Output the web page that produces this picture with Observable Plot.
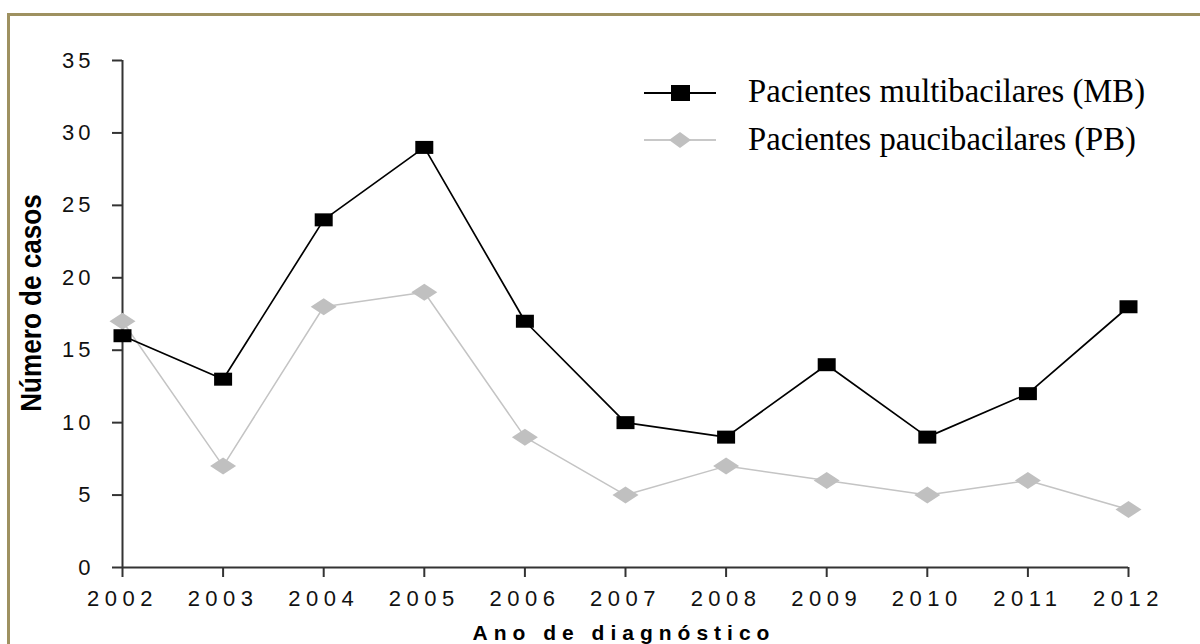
<!DOCTYPE html>
<html>
<head>
<meta charset="utf-8">
<script src="https://cdn.jsdelivr.net/npm/d3@7"></script>
<script src="https://cdn.jsdelivr.net/npm/@observablehq/plot@0.6"></script>
<style>
  html, body { margin: 0; padding: 0; background: #fff; }
  #wrap { position: relative; width: 1200px; height: 644px; overflow: hidden; background: #fff; }
  #frame { position: absolute; left: 7px; top: 13px; width: 1300px; height: 800px;
           border-top: 3px solid #9e9160; border-left: 3px solid #9e9160; box-sizing: border-box; }
  #chart { position: absolute; left: 0; top: 0; }
  #chart g[aria-label="x-axis tick label"], #chart g[aria-label="x-axis tick label"] text { font-size: 22px !important; letter-spacing: 5.5px; }
  #chart g[aria-label="y-axis tick label"], #chart g[aria-label="y-axis tick label"] text { font-size: 22px !important; letter-spacing: 4px; }
  .ytitle { position: absolute; left: 31px; top: 303px; transform: translate(-50%, -50%) rotate(-90deg) scaleX(0.9);
            font: bold 29px "Liberation Sans", Arial, sans-serif; white-space: nowrap; color: #000; line-height: 29px; }
  .xtitle { position: absolute; left: 624px; top: 622px; transform: translateX(-50%);
            font: bold 21px "Liberation Sans", Arial, sans-serif; letter-spacing: 6px; white-space: nowrap; color: #000; line-height: 21px; }
  .leg { position: absolute; left: 640px; font: 34px "Liberation Serif", "Times New Roman", serif; line-height: 34px; color: #000; white-space: nowrap; }
  .leg svg { position: absolute; left: 0; top: 0; }
  .leg span { position: absolute; left: 108px; top: 2px; transform-origin: 0 50%; transform: scaleX(0.96); }
</style>
</head>
<body>
<div id="wrap">
  <div id="chart"></div>
  <div id="frame"></div>
  <div class="ytitle">Número de casos</div>
  <div class="xtitle">Ano de diagnóstico</div>
  <div class="leg" style="top:72px">
    <svg width="90" height="40"><line x1="4" x2="76" y1="21" y2="21" stroke="#000" stroke-width="2"/><rect x="31" y="13" width="19" height="16" fill="#000"/></svg>
    <span>Pacientes multibacilares (MB)</span>
  </div>
  <div class="leg" style="top:120px">
    <svg width="90" height="40"><line x1="4" x2="76" y1="20" y2="20" stroke="#c8c8c8" stroke-width="2"/><path d="M40,12 L51,20 L40,28 L29,20 Z" fill="#c0c0c0"/></svg>
    <span>Pacientes paucibacilares (PB)</span>
  </div>
</div>
<script>
const years = [2002, 2003, 2004, 2005, 2006, 2007, 2008, 2009, 2010, 2011, 2012];
const multibacilares = [16, 13, 24, 29, 17, 10, 9, 14, 9, 12, 18];
const paucibacilares = [17, 7, 18, 19, 9, 5, 7, 6, 5, 6, 4];
const yTicks = [0, 5, 10, 15, 20, 25, 30, 35];

const mb = years.map((y, i) => ({year: y, value: multibacilares[i]}));
const pb = years.map((y, i) => ({year: y, value: paucibacilares[i]}));

const squareSym = {draw(ctx) { ctx.rect(-9, -6.5, 18, 13); }};
const diamondSym = {draw(ctx) { ctx.moveTo(0, -8.5); ctx.lineTo(13, 0); ctx.lineTo(0, 8.5); ctx.lineTo(-13, 0); ctx.closePath(); }};

const font = '"Liberation Sans", Arial, sans-serif';

const plot = Plot.plot({
  width: 1200,
  height: 644,
  marginLeft: 122,
  marginRight: 72,
  marginTop: 60,
  marginBottom: 77,
  style: {background: "transparent", overflow: "visible", fontFamily: font, color: "#222"},
  x: {domain: [2002, 2012]},
  y: {domain: [0, 35]},
  marks: [
    Plot.axisX({ticks: years, tickFormat: d => String(d), tickSize: 10, tickPadding: 13, fontSize: 22, label: null, stroke: "#333", strokeWidth: 2, fill: "#111"}),
    Plot.axisY({ticks: yTicks, tickSize: 10, tickPadding: 18, fontSize: 22, label: null, stroke: "#333", strokeWidth: 2, fill: "#111"}),
    Plot.ruleY([0], {stroke: "#333", strokeWidth: 2}),
    Plot.ruleX([2002], {stroke: "#333", strokeWidth: 2}),
    Plot.line(pb, {x: "year", y: "value", stroke: "#c4c4c4", strokeWidth: 1.5}),
    Plot.dot(pb, {x: "year", y: "value", symbol: diamondSym, fill: "#c0c0c0", stroke: "none"}),
    Plot.line(mb, {x: "year", y: "value", stroke: "#000", strokeWidth: 1.7}),
    Plot.dot(mb, {x: "year", y: "value", symbol: squareSym, fill: "#000", stroke: "none"})
  ]
});
document.getElementById("chart").appendChild(plot);
</script>
</body>
</html>
